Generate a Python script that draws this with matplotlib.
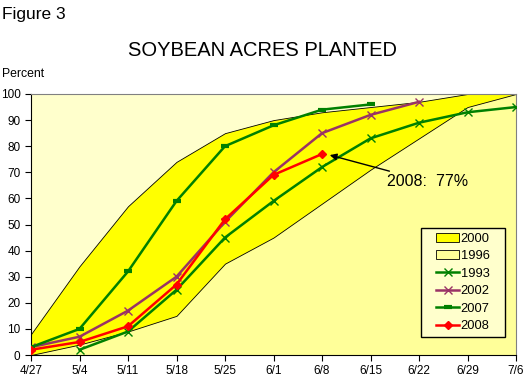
import matplotlib
matplotlib.use("Agg")
import matplotlib.pyplot as plt
from matplotlib.patches import Rectangle
import numpy as np

plt.rcParams['font.family'] = ['Liberation Sans', 'DejaVu Sans']

dates = ['4/27', '5/4', '5/11', '5/18', '5/25', '6/1', '6/8', '6/15', '6/22', '6/29', '7/6']
y2000 = [8, 34, 57, 74, 85, 90, 93, 95, 97, 100, 100]
y1996 = [0, 4, 9, 15, 35, 45, 58, 71, 83, 95, 100]
y1993 = [np.nan, 2, 9, 25, 45, 59, 72, 83, 89, 93, 95]
y2002 = [3, 7, 17, 30, 51, 70, 85, 92, 97, np.nan, np.nan]
y2007 = [3, 10, 32, 59, 80, 88, 94, 96, np.nan, np.nan, np.nan]
y2008 = [2, 5, 11, 27, 52, 69, 77, np.nan, np.nan, np.nan, np.nan]

x = np.arange(len(dates))

fig = plt.figure(figsize=(5.27, 3.83), dpi=100)
ax = fig.add_axes([31/527, 1-355/383, (516-31)/527, (355-94)/383])
ax.set_facecolor('#FFFFCC')

ax.fill_between(x, 0, y2000, facecolor='#FFFF00', edgecolor='black', lw=0.6, label='2000', zorder=1)
ax.fill_between(x, 0, y1996, facecolor='#FFFF99', edgecolor='black', lw=0.6, label='1996', zorder=2)

ax.plot(x, y1993, color='#008000', lw=1.8, marker='x', ms=6, mew=1, label='1993', zorder=3)
ax.plot(x, y2002, color='#993366', lw=1.8, marker='x', ms=6, mew=1, label='2002', zorder=4)
ax.plot(x, y2007, color='#008000', lw=1.8, marker='_', ms=6, mew=3, label='2007', zorder=5)
ax.plot(x, y2008, color='#FF0000', lw=1.8, marker='D', ms=4.5, label='2008', zorder=6)

ax.set_xlim(0, 10)
ax.set_ylim(0, 100)
ax.set_xticks(x)
ax.set_xticklabels(dates)
ax.set_yticks(range(0, 101, 10))
ax.tick_params(labelsize=8.5, length=4, width=0.8, colors='black', direction='out')
for s in ['top', 'right']:
    ax.spines[s].set_color('#808080')
for s in ['left', 'bottom']:
    ax.spines[s].set_color('black')

ax.annotate('2008:  77%', xy=(6.16, 76.6), xytext=(7.34, 66.5),
            fontsize=11.5, va='center', ha='left',
            arrowprops=dict(arrowstyle='-|>', color='black', lw=1, mutation_scale=10,
                            shrinkA=0, shrinkB=0))

# legend box (Excel style, wider side padding)
box = Rectangle((421/527, 1-337/383), (505-421)/527, (337-228)/383, transform=fig.transFigure,
                facecolor='#FFFFCC', edgecolor='black', lw=1, zorder=9)
fig.add_artist(box)
leg = fig.legend(*ax.get_legend_handles_labels(), loc='center',
                 bbox_to_anchor=(463/527, 1-282.5/383), fontsize=9.3,
                 frameon=False, handlelength=1.8, handletextpad=0.1,
                 labelspacing=0.42, borderpad=0)
leg.set_zorder(10)

fig.text(2/527, 1-14/383, 'Figure 3', fontsize=12.5, va='center', ha='left')
fig.text(263/527, 1-50/383, 'SOYBEAN ACRES PLANTED', fontsize=14.5, va='center', ha='center')
fig.text(2/527, 1-74/383, 'Percent', fontsize=8.8, va='center', ha='left')

fig.savefig('out.png', dpi=100)
